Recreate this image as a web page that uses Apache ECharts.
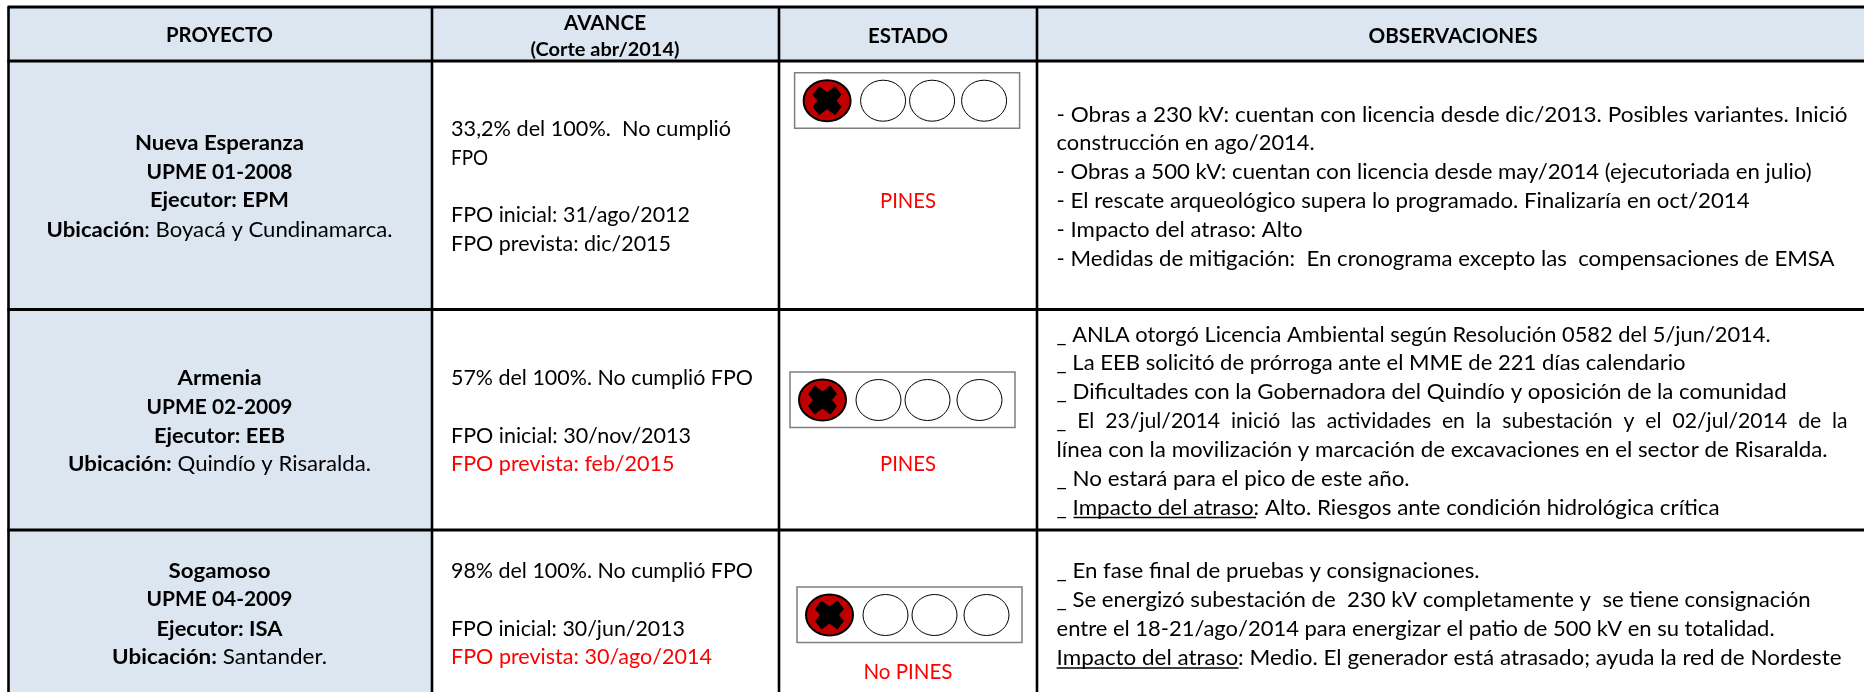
<!DOCTYPE html>
<html><head><meta charset="utf-8">
<style>html,body{margin:0;padding:0;background:#fff}#c{width:1864px;height:692px}</style>
<script src="https://cdn.jsdelivr.net/npm/echarts@6/dist/echarts.min.js"></script>
</head><body><div id="c"></div>
<script>
// ---- table content ----
const headers = ['{b|PROYECTO}','{b|AVANCE}','{s|(Corte abr/2014)}','{b|ESTADO}','{b|OBSERVACIONES}'];
const proyecto = [
 ['{b|Nueva Esperanza}','{b|UPME 01-2008}','{b|Ejecutor: EPM}','{b|Ubicación}{n|: Boyacá y Cundinamarca.}'],
 ['{b|Armenia}','{b|UPME 02-2009}','{b|Ejecutor: EEB}','{b|Ubicación:}{n| Quindío y Risaralda.}'],
 ['{b|Sogamoso}','{b|UPME 04-2009}','{b|Ejecutor: ISA}','{b|Ubicación:}{n| Santander.}']
];
const avance = [
 ['{n|33,2% del 100%.  No cumplió}','{n|FPO}','{n|FPO inicial: 31/ago/2012}','{n|FPO prevista: dic/2015}'],
 ['{n|57% del 100%. No cumplió FPO}','{n|FPO inicial: 30/nov/2013}','{r|FPO prevista: feb/2015}'],
 ['{n|98% del 100%. No cumplió FPO}','{n|FPO inicial: 30/jun/2013}','{r|FPO prevista: 30/ago/2014}']
];
const estado = ['{r|PINES}','{r|PINES}','{r|No PINES}'];
const lucesEnRojo = [1,1,1];
const lucesTotal = 4;
const observaciones = [
 ['{n|- Obras a 230 kV: cuentan con licencia desde dic/2013. Posibles variantes. Inició}',
  '{n|construcción en ago/2014.}',
  '{n|- Obras a 500 kV: cuentan con licencia desde may/2014 (ejecutoriada en julio)}',
  '{n|- El rescate arqueológico supera lo programado. Finalizaría en oct/2014}',
  '{n|- Impacto del atraso: Alto}',
  '{n|- Medidas de mitigación:  En cronograma excepto las  compensaciones de EMSA}'],
 ['{n|_ ANLA otorgó Licencia Ambiental según Resolución 0582 del 5/jun/2014.}',
  '{n|_ La EEB solicitó de prórroga ante el MME de 221 días calendario}',
  '{n|_ Dificultades con la Gobernadora del Quindío y oposición de la comunidad}',
  '{n|_  El  23/jul/2014  inició  las  actividades  en  la  subestación  y  el  02/jul/2014  de  la}',
  '{n|línea con la movilización y marcación de excavaciones en el sector de Risaralda.}',
  '{n|_ No estará para el pico de este año.}',
  '{n|_ Impacto del atraso: Alto. Riesgos ante condición hidrológica crítica}'],
 ['{n|_ En fase final de pruebas y consignaciones.}',
  '{n|_ Se energizó subestación de  230 kV completamente y  se tiene consignación}',
  '{n|entre el 18-21/ago/2014 para energizar el patio de 500 kV en su totalidad.}',
  '{n|Impacto del atraso: Medio. El generador está atrasado; ayuda la red de Nordeste}']
];

// ---- layout ----
const W = 1864, H = 692;
const colX = [8.5, 432, 779, 1037];
const rowY = [7, 61, 309.5, 530];
const headerLayout = [[219.5,35,107],[605,23,82],[605,50,149],[908,36,80],[1453,36,169]];
const projY = [[143,172,200,230],[378,407,436,464],[571,599,629,657]];
const projW = [[169,146,139,346],[84,146,131,303],[102,146,126,215]];
const avY = [[129,158,215,244],[378,436,464],[571,629,657]];
const avW = [[280,37,239,220],[302,240,223.5],[302,234,261]];
const estY = [201,464,672];
const estW = [56,56,89];
const obsY = [[115,143,172,201,230,259],[335,363,392,421,450,479,508],[571,600,629,658]];
const obsW = [[791,258,755,693,246,778],[714,629,730,791,771,353,663],[423,754,718,785]];
const underlines = [[1073.5,1256,517.5],[1056.6,1238.5,668]];
const lightBox = [[794.6,72.7],[790,372],[797,587]];
const lightOffsets = [32.5,88.5,137.5,189.5];

const colProj = 219.5, colAv = 451, colEst = 908, colObs = 1056.6;
const FONT = 'Lato';
const FS = 21.5;
const rich = {
  n:{fontFamily:FONT,fontSize:FS,fontWeight:'normal',fill:'#000',color:'#000'},
  b:{fontFamily:FONT,fontSize:FS,fontWeight:'bold',fill:'#000',color:'#000'},
  s:{fontFamily:FONT,fontSize:18,fontWeight:'bold',fill:'#000',color:'#000'},
  r:{fontFamily:FONT,fontSize:FS,fontWeight:'normal',fill:'#f00',color:'#f00'}
};
const ctx = document.createElement('canvas').getContext('2d');
function measure(t){
  let w=0; const re=/\{(\w+)\|([^}]*)\}/g; let m;
  while((m=re.exec(t))){
    const s=rich[m[1]];
    ctx.font=s.fontWeight+' '+s.fontSize+'px '+FONT;
    w+=ctx.measureText(m[2]).width;
  }
  return w;
}
// build the text marks
const texts=[];
function add(t,x,y,w,align){texts.push({t,x,y,w,align});}
headers.forEach((t,i)=>add(t,headerLayout[i][0],headerLayout[i][1],headerLayout[i][2],'center'));
proyecto.forEach((r,i)=>r.forEach((t,j)=>add(t,colProj,projY[i][j],projW[i][j],'center')));
avance.forEach((r,i)=>r.forEach((t,j)=>add(t,colAv,avY[i][j],avW[i][j],'left')));
estado.forEach((t,i)=>add(t,colEst,estY[i],estW[i],'center'));
observaciones.forEach((r,i)=>r.forEach((t,j)=>add(t,colObs,obsY[i][j],obsW[i][j],'left')));

function rect(api,x0,y0,x1,y1,fill){
  const a=api.coord([x0,y0]), b=api.coord([x1,y1]);
  return {type:'rect',shape:{x:a[0],y:a[1],width:b[0]-a[0],height:b[1]-a[1]},style:{fill}};
}
function seg(api,x0,y0,x1,y1,w,c){
  const a=api.coord([x0,y0]), b=api.coord([x1,y1]);
  return {type:'line',shape:{x1:a[0],y1:a[1],x2:b[0],y2:b[1]},style:{stroke:c||'#000',lineWidth:w}};
}
const FILL='#DCE6F1';
const fills=[[colX[0],rowY[0],W,rowY[1]],[colX[0],rowY[1],colX[1],H]];
const gridLines=[
 ...rowY.map(y=>[colX[0]-1,y,W,y,3]),
 ...colX.map(x=>[x,rowY[0],x,H,2.6])
];
const xPts=[[-8,-14.5],[0,-8.5],[8,-14.5],[14.5,-6],[9.5,0],[14.5,6],[8,14.5],[0,8.5],[-8,14.5],[-14.5,6],[-9.5,0],[-14.5,-6]];

const idx=n=>Array.from({length:n},(_,i)=>[i,i]);
const base={type:'custom',coordinateSystem:'cartesian2d',clip:false,silent:true,animation:false};
const option={
 animation:false,backgroundColor:'#fff',
 grid:{left:0,right:0,top:0,bottom:0},
 xAxis:{type:'value',min:0,max:W,show:false},
 yAxis:{type:'value',min:0,max:H,inverse:true,show:false},
 tooltip:{show:false},
 series:[
  {...base,data:idx(fills.length),z:1,renderItem:(p,api)=>{const f=fills[p.dataIndex];return rect(api,f[0],f[1],f[2],f[3],FILL);}},
  {...base,data:idx(gridLines.length),z:2,renderItem:(p,api)=>{const g=gridLines[p.dataIndex];return seg(api,g[0],g[1],g[2],g[3],g[4]);}},
  {...base,data:idx(underlines.length),z:3,renderItem:(p,api)=>{const u=underlines[p.dataIndex];return seg(api,u[0],u[2],u[1],u[2],1.4);}},
  {...base,data:idx(lucesEnRojo.length),z:4,renderItem:(p,api)=>{
    const i=p.dataIndex,[bx,by]=lightBox[i];
    const o=api.coord([bx,by]);
    const ch=[{type:'rect',shape:{x:o[0],y:o[1],width:225,height:55.5},style:{fill:'#fff',stroke:'#7f7f7f',lineWidth:1.5}}];
    for(let k=0;k<lucesTotal;k++){
      const on=k<lucesEnRojo[i];
      const c=api.coord([bx+lightOffsets[k],by+28]);
      ch.push({type:'ellipse',shape:{cx:c[0],cy:c[1],rx:on?23.5:22.5,ry:20.5},
        style:{fill:on?'#C00000':'#fff',stroke:'#000',lineWidth:on?2:1}});
      if(on) ch.push({type:'polygon',shape:{points:xPts.map(q=>[c[0]+q[0],c[1]+q[1]])},style:{fill:'#000'}});
    }
    return {type:'group',children:ch};
  }},
  {...base,data:idx(texts.length),z:5,renderItem:(p,api)=>{
    const d=texts[p.dataIndex];
    const c=api.coord([d.x,d.y]);
    return {type:'text',x:c[0],y:c[1],scaleX:d.w/measure(d.t),
      style:{text:d.t,rich,align:d.align,verticalAlign:'middle',fontFamily:FONT,fontSize:FS}};
  }}
 ]
};
echarts.init(document.getElementById('c'),null,{renderer:'canvas'}).setOption(option);
</script></body></html>
